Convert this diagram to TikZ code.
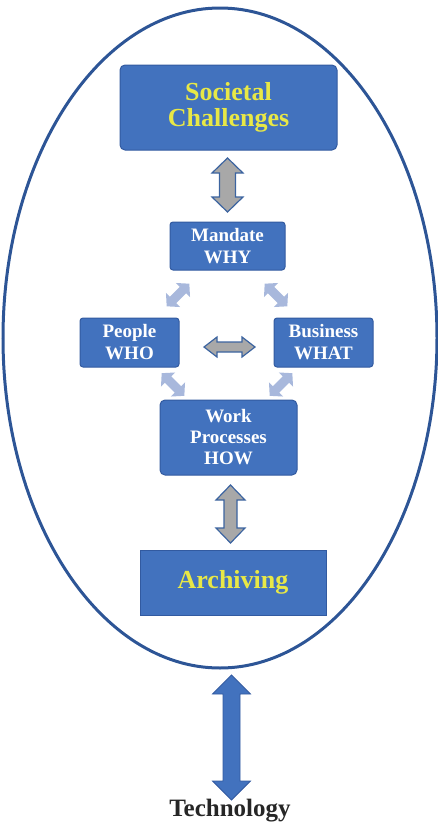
\documentclass[tikz,border=0pt]{standalone}
\usepackage{fontspec}
\setmainfont{Liberation Serif}
\usetikzlibrary{calc}
\definecolor{boxblue}{RGB}{66,114,190}
\definecolor{boxedge}{RGB}{50,90,160}
\definecolor{ringblue}{RGB}{45,85,150}
\definecolor{ygold}{RGB}{232,232,70}
\definecolor{grayfill}{RGB}{168,168,168}
\definecolor{grayedge}{RGB}{60,100,160}
\definecolor{lightarr}{RGB}{168,184,220}
\newcommand\blkarrow[5]{\path[#1] (-#2,0) -- (-#2+#5,#3) -- (-#2+#5,#4) -- (#2-#5,#4) -- (#2-#5,#3) -- (#2,0) -- (#2-#5,-#3) -- (#2-#5,-#4) -- (-#2+#5,-#4) -- (-#2+#5,-#3) -- cycle;}
\tikzset{
  bbox/.style={draw=boxedge, line width=1pt, fill=boxblue, rounded corners=5pt, align=center, inner sep=0pt},
  wtext/.style={text=white, font=\fontsize{19}{22}\selectfont\bfseries},
  ytext/.style={text=ygold, font=\fontsize{26}{26}\selectfont\bfseries},
  grayarr/.style={draw=grayedge, line width=1.2pt, fill=grayfill, line join=miter},
  lightarrow/.style={fill=lightarr},
  bigarr/.style={draw=boxedge, line width=0.8pt, fill=boxblue},
}
\begin{document}
\begin{tikzpicture}[x=1pt,y=-1pt]
\useasboundingbox (0,0) rectangle (438,828);
% ring
\draw[ringblue, line width=3pt] (220,338) ellipse [x radius=217, y radius=330];
\coordinate (ringbot) at (230,669);
% boxes
\node[bbox, ytext, minimum width=217pt, minimum height=85pt] (soc) at (228.5,107.5) {Societal\\Challenges};
\node[bbox, wtext, minimum width=115pt, minimum height=48pt, rounded corners=3pt] (man) at (227.5,246) {Mandate\\WHY};
\node[bbox, wtext, minimum width=99pt, minimum height=49pt, rounded corners=3pt] (peo) at (129.5,342.5) {People\\WHO};
\node[bbox, wtext, minimum width=99pt, minimum height=49pt, rounded corners=3pt] (bus) at (323.5,342.5) {Business\\WHAT};
\node[bbox, wtext, minimum width=137pt, minimum height=75pt, rounded corners=5pt, font=\fontsize{19}{21}\selectfont\bfseries] (wp) at (228.5,437.5) {Work\\Processes\\HOW};
\node[bbox, ytext, minimum width=186pt, minimum height=65pt, rounded corners=0pt] (arc) at (233,582.5) {Archiving};
\node[font=\fontsize{25}{25}\selectfont\bfseries, text=black!85] (tech) at (230,811) {Technology};
% gray block arrows
\begin{scope}[shift={(227.5,185)}, rotate=90]
\blkarrow{grayarr}{27}{15.5}{8}{15}
\end{scope}
\begin{scope}[shift={(230.5,514)}, rotate=90]
\blkarrow{grayarr}{29}{14.5}{6.5}{15}
\end{scope}
\begin{scope}[shift={(229.5,347)}]
\blkarrow{grayarr}{25.5}{10}{5}{13}
\end{scope}
% light diagonal arrows
\begin{scope}[shift={(178,295)}, rotate=45]
\blkarrow{lightarrow}{16}{10}{4.5}{9}
\end{scope}
\begin{scope}[shift={(276,295)}, rotate=-45]
\blkarrow{lightarrow}{16}{10}{4.5}{9}
\end{scope}
\begin{scope}[shift={(173,384.5)}, rotate=-45]
\blkarrow{lightarrow}{16}{10}{4.5}{9}
\end{scope}
\begin{scope}[shift={(281,384.5)}, rotate=45]
\blkarrow{lightarrow}{16}{10}{4.5}{9}
\end{scope}
% big technology arrow
\begin{scope}[shift={(231.5,737.5)}, rotate=90]
\blkarrow{bigarr}{62.5}{19}{8.5}{19}
\end{scope}
\end{tikzpicture}
\end{document}
